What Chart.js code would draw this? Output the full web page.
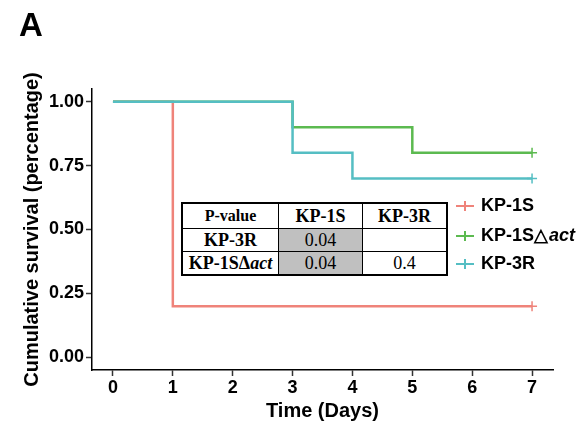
<!DOCTYPE html>
<html>
<head>
<meta charset="utf-8">
<script src="https://cdn.jsdelivr.net/npm/chart.js@4.4.1/dist/chart.umd.min.js"></script>
<style>
  html, body { margin: 0; padding: 0; background: #fff; }
  #wrap { position: relative; width: 586px; height: 428px; }
  #panel-tag { position: absolute; left: 19px; top: 6px; font: bold 33px Arial, "Liberation Sans", sans-serif; color: #000; }
  #pval {
    position: absolute; left: 181px; top: 202px; border-collapse: collapse;
    background: #fff; font-family: "Times New Roman", "Liberation Serif", serif; font-size: 18px;
    border: 2px solid #000;
  }
  #pval td { border: 1px solid #000; text-align: center; padding: 0; height: 22px; line-height: 20px; }
  #pval tr:first-child td { height: 24px; }
  #pval .hd { font-weight: bold; font-size: 18px; }
  #pval .pv { font-weight: bold; font-size: 16px; }
  #pval .gray { background: #c0c0c0; }
</style>
</head>
<body>
<div id="wrap">
  <canvas id="km" width="586" height="428"></canvas>
  <div id="panel-tag">A</div>
  <table id="pval">
    <tr><td class="pv" style="width:95px">P-value</td><td class="hd" style="width:83px">KP-1S</td><td class="hd" style="width:83px">KP-3R</td></tr>
    <tr><td class="hd">KP-3R</td><td class="gray">0.04</td><td></td></tr>
    <tr><td class="hd">KP-1SΔ<i>act</i></td><td class="gray">0.04</td><td>0.4</td></tr>
  </table>
</div>
<script>
// survival curves (step points), time in days
const kp1sDays = [0, 1, 7]
const kp1sSurv = [1.0, 0.2, 0.2]
const kp1sActDays = [0, 3, 5, 7]
const kp1sActSurv = [1.0, 0.9, 0.8, 0.8]
const kp3rDays = [0, 3, 4, 7]
const kp3rSurv = [1.0, 0.8, 0.7, 0.7]

const xTicks = [0, 1, 2, 3, 4, 5, 6, 7]
const yTicks = [0, 0.25, 0.5, 0.75, 1]

const seriesNames = ['KP-1S', 'KP-1S△', 'KP-3R']
const colors = ['#ef837a', '#5cba50', '#55bec3']

const toPoints = (xs, ys) => xs.map((x, i) => ({ x: x, y: ys[i] }))
// censor "+" only at the last point
const censorRadius = (xs) => xs.map((x, i) => i === xs.length - 1 ? 5 : 0)

const makeSet = (label, xs, ys, color, order) => ({
  label: label,
  data: toPoints(xs, ys),
  order: order,
  borderColor: color,
  backgroundColor: color,
  borderWidth: 2.5,
  stepped: 'before',
  pointStyle: 'cross',
  pointRadius: censorRadius(xs),
  pointBorderWidth: 1.5,
  pointBorderColor: color,
  fill: false
})

// legend drawn inside the panel like ggplot
const kmLegend = {
  id: 'kmLegend',
  afterDraw(chart) {
    const ctx = chart.ctx
    const rows = [206, 236, 264]
    ctx.save()
    seriesNames.forEach((name, i) => {
      const y = rows[i]
      ctx.strokeStyle = colors[i]
      ctx.lineWidth = 2
      ctx.beginPath()
      ctx.moveTo(456, y); ctx.lineTo(474, y)
      ctx.moveTo(465, y - 5); ctx.lineTo(465, y + 5)
      ctx.stroke()
      ctx.fillStyle = '#000'
      ctx.textBaseline = 'middle'
      ctx.font = 'bold 18px Arial, "Liberation Sans", sans-serif'
      ctx.fillText(name, 481, y)
      if (i === 1) {
        const w = ctx.measureText(name).width
        ctx.font = 'italic bold 18px Arial, "Liberation Sans", sans-serif'
        ctx.fillText('act', 481 + w + 1, y)
      }
    })
    ctx.restore()
  }
}

const axisFont = { family: 'Arial, "Liberation Sans", sans-serif', size: 18, weight: 'bold' }
const titleFont = { family: 'Arial, "Liberation Sans", sans-serif', size: 20, weight: 'bold' }

new Chart(document.getElementById('km'), {
  type: 'line',
  data: {
    datasets: [
      makeSet(seriesNames[0], kp1sDays, kp1sSurv, colors[0], 2),
      makeSet(seriesNames[1], kp1sActDays, kp1sActSurv, colors[1], 1),
      makeSet(seriesNames[2], kp3rDays, kp3rSurv, colors[2], 0)
    ]
  },
  options: {
    responsive: false,
    animation: false,
    layout: { padding: { left: 20, top: 89, right: 33, bottom: 0 } },
    plugins: { legend: { display: false }, tooltip: { enabled: false } },
    scales: {
      x: {
        type: 'linear',
        min: -0.35,
        max: 7.35,
        afterBuildTicks: s => { s.ticks = xTicks.map(v => ({ value: v })) },
        afterFit: s => { s.height = 58 },
        ticks: { color: '#000', font: axisFont, padding: 1, maxRotation: 0 },
        grid: { drawOnChartArea: false, color: '#333', tickLength: 6, tickWidth: 1.5 },
        border: { color: '#000', width: 1.5 },
        title: { display: true, text: 'Time (Days)', color: '#000', font: titleFont, padding: { top: 0, bottom: 5 } }
      },
      y: {
        type: 'linear',
        min: -0.05,
        max: 1.05,
        afterBuildTicks: s => { s.ticks = yTicks.map(v => ({ value: v })) },
        afterFit: s => { s.width = 72 },
        ticks: { color: '#000', font: axisFont, padding: 2, callback: v => Number(v).toFixed(2) },
        grid: { drawOnChartArea: false, color: '#333', tickLength: 6, tickWidth: 1.5 },
        border: { color: '#000', width: 1.5 },
        title: { display: true, text: 'Cumulative survival (percentage)', color: '#000', font: titleFont, padding: { top: 0, bottom: 0 } }
      }
    }
  },
  plugins: [kmLegend]
})
</script>
</body>
</html>
